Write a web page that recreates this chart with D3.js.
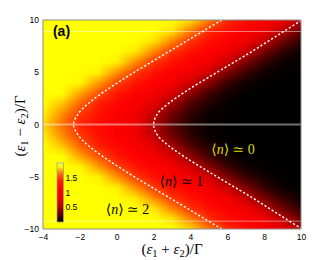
<!DOCTYPE html>
<html>
<head>
<meta charset="utf-8">
<script src="https://cdn.jsdelivr.net/npm/d3@7"></script>
<style>
  body { margin: 0; background: #fff; }
  svg { display: block; }
  .tick text { font-family: "Liberation Sans", Arial, sans-serif; font-size: 8.5px; fill: #000; }
  .math { font-family: "Liberation Serif", "DejaVu Serif", serif; }
</style>
</head>
<body>
<script>
var svg_width = 332;
var svg_height = 260;

var margin = { top: 20, right: 31, bottom: 31, left: 43 };
var width = svg_width - margin.left - margin.right;
var height = svg_height - margin.top - margin.bottom;

// grid of the map: columns are (e1+e2)/G, rows are (e1-e2)/G, top row first
var sumVals = [-4, -3, -2, -1, 0, 1, 2, 3, 4, 5, 6, 7, 8, 9, 10];
var diffVals = [10, 9, 8, 7, 6, 5, 4, 3, 2, 1, 0, -1, -2, -3, -4, -5, -6, -7, -8, -9, -10];
var occupation = [
  [1.93,1.93,1.93,1.93,1.93,1.93,1.93,1.92,1.82,1.65,1.42,1.21,1.02,0.81,0.53],
  [1.93,1.93,1.93,1.93,1.93,1.93,1.93,1.83,1.66,1.43,1.22,1.03,0.83,0.56,0.29],
  [1.93,1.93,1.93,1.93,1.93,1.93,1.83,1.67,1.45,1.23,1.05,0.85,0.59,0.31,0.13],
  [1.93,1.93,1.93,1.93,1.93,1.84,1.68,1.46,1.24,1.06,0.87,0.62,0.33,0.14,0.05],
  [1.93,1.93,1.93,1.93,1.85,1.69,1.47,1.25,1.07,0.88,0.63,0.35,0.15,0.05,0.02],
  [1.93,1.93,1.93,1.85,1.70,1.48,1.26,1.07,0.89,0.65,0.36,0.16,0.06,0.02,0.01],
  [1.93,1.93,1.86,1.72,1.50,1.28,1.09,0.91,0.66,0.38,0.16,0.06,0.02,0.01,0.00],
  [1.93,1.88,1.74,1.54,1.30,1.11,0.92,0.69,0.40,0.18,0.07,0.02,0.01,0.00,0.00],
  [1.90,1.79,1.60,1.36,1.15,0.97,0.75,0.46,0.22,0.10,0.03,0.01,0.00,0.00,0.00],
  [1.85,1.69,1.47,1.24,1.05,0.85,0.58,0.30,0.13,0.04,0.02,0.01,0.00,0.00,0.00],
  [1.81,1.64,1.41,1.20,1.01,0.80,0.52,0.26,0.10,0.04,0.01,0.00,0.00,0.00,0.00],
  [1.85,1.69,1.47,1.24,1.05,0.85,0.58,0.30,0.13,0.04,0.02,0.01,0.00,0.00,0.00],
  [1.90,1.79,1.60,1.36,1.15,0.97,0.75,0.46,0.22,0.10,0.03,0.01,0.00,0.00,0.00],
  [1.93,1.88,1.74,1.54,1.30,1.11,0.92,0.69,0.40,0.18,0.07,0.02,0.01,0.00,0.00],
  [1.93,1.93,1.86,1.72,1.50,1.28,1.09,0.91,0.66,0.38,0.16,0.06,0.02,0.01,0.00],
  [1.93,1.93,1.93,1.85,1.70,1.48,1.26,1.07,0.89,0.65,0.36,0.16,0.06,0.02,0.01],
  [1.93,1.93,1.93,1.93,1.85,1.69,1.47,1.25,1.07,0.88,0.63,0.35,0.15,0.05,0.02],
  [1.93,1.93,1.93,1.93,1.93,1.84,1.68,1.46,1.24,1.06,0.87,0.62,0.33,0.14,0.05],
  [1.93,1.93,1.93,1.93,1.93,1.93,1.83,1.67,1.45,1.23,1.05,0.85,0.59,0.31,0.13],
  [1.93,1.93,1.93,1.93,1.93,1.93,1.93,1.83,1.66,1.43,1.22,1.03,0.83,0.56,0.29],
  [1.93,1.93,1.93,1.93,1.93,1.93,1.93,1.92,1.82,1.65,1.42,1.21,1.02,0.81,0.53]
];

// dashed boundaries
var curveDiff = [-10, -9, -8, -7, -6, -5, -4, -3, -2, -1, 0, 1, 2, 3, 4, 5, 6, 7, 8, 9, 10];
var innerSum = [5.7, 4.75, 3.8, 2.85, 1.9, 0.95, 0.05, -0.8, -1.55, -2.1, -2.35, -2.1, -1.55, -0.8, 0.05, 0.95, 1.9, 2.85, 3.8, 4.75, 5.7];
var outerSum = [10.05, 9.15, 8.25, 7.35, 6.4, 5.45, 4.5, 3.6, 2.8, 2.2, 2.0, 2.2, 2.8, 3.6, 4.5, 5.45, 6.4, 7.35, 8.25, 9.15, 10.05];

var xTicks = [-4, -2, 0, 2, 4, 6, 8, 10];
var yTicks = [-10, -5, 0, 5, 10];
var barTicks = [0.5, 1, 1.5];
var faintLines = [8.9, 0, -9.25];

var svg = d3.select("body")
  .append("svg")
  .attr("width", svg_width)
  .attr("height", svg_height);

svg.append("defs").append("clipPath")
  .attr("id", "plotClip")
  .append("rect")
  .attr("width", width)
  .attr("height", height);

var chartGroup = svg.append("g")
  .attr("transform", `translate(${margin.left}, ${margin.top})`);

var xScale = d3.scaleLinear().domain([-4, 10]).range([0, width]);
var yScale = d3.scaleLinear().domain([-10, 10]).range([height, 0]);

var color = d3.scaleLinear()
  .domain([0, 0.04, 0.12, 0.25, 0.5, 0.8, 1.1, 1.4, 1.6, 1.75, 1.87, 1.94, 2.0])
  .range(["#000000", "#080000", "#2a0000", "#580000", "#b00000", "#f00000", "#ff0000",
          "#ff2000", "#ff6000", "#ffa800", "#ffff00", "#ffff00", "#ffffa0"])
  .clamp(true);

// heat map: one pixel per grid cell, scaled up smoothly
var nx = sumVals.length, ny = diffVals.length;
var small = document.createElement("canvas");
small.width = nx;
small.height = ny;
var sctx = small.getContext("2d");
var img = sctx.createImageData(nx, ny);
occupation.forEach(function(row, j) {
  row.forEach(function(v, i) {
    var c = d3.rgb(color(v));
    var k = (j * nx + i) * 4;
    img.data[k] = c.r;
    img.data[k + 1] = c.g;
    img.data[k + 2] = c.b;
    img.data[k + 3] = 255;
  });
});
sctx.putImageData(img, 0, 0);

var hx0 = xScale(sumVals[0] - 0.5), hx1 = xScale(sumVals[nx - 1] + 0.5);
var hy0 = yScale(diffVals[0] + 0.5), hy1 = yScale(diffVals[ny - 1] - 0.5);
var big = document.createElement("canvas");
big.width = Math.round((hx1 - hx0) * 2);
big.height = Math.round((hy1 - hy0) * 2);
var bctx = big.getContext("2d");
bctx.imageSmoothingEnabled = true;
bctx.drawImage(small, 0, 0, big.width, big.height);

chartGroup.append("image")
  .attr("x", hx0)
  .attr("y", hy0)
  .attr("width", hx1 - hx0)
  .attr("height", hy1 - hy0)
  .attr("preserveAspectRatio", "none")
  .attr("href", big.toDataURL())
  .attr("clip-path", "url(#plotClip)");

// faint horizontal lines over the map
chartGroup.selectAll(".faint")
  .data(faintLines)
  .enter()
  .append("line")
  .attr("class", "faint")
  .attr("x1", 0)
  .attr("x2", width)
  .attr("y1", d => yScale(d))
  .attr("y2", d => yScale(d))
  .attr("stroke", "#fff")
  .attr("stroke-opacity", d => d === 0 ? 0.45 : 0.6)
  .attr("stroke-width", d => d === 0 ? 2 : 0.8);

// dashed boundaries
var line = d3.line()
  .x(d => xScale(d[0]))
  .y(d => yScale(d[1]))
  .curve(d3.curveCatmullRom);

[innerSum, outerSum].forEach(function(sums) {
  chartGroup.append("path")
    .datum(sums.map((s, i) => [s, curveDiff[i]]))
    .attr("d", line)
    .attr("fill", "none")
    .attr("stroke", "#fff")
    .attr("stroke-width", 1.4)
    .attr("stroke-dasharray", "2.2,2")
    .attr("clip-path", "url(#plotClip)");
});

// frame
chartGroup.append("rect")
  .attr("width", width)
  .attr("height", height)
  .attr("fill", "none")
  .attr("stroke", "#8c8c8c")
  .attr("stroke-width", 1);

// axes
var bottomAxis = d3.axisBottom(xScale).tickValues(xTicks).tickSize(0).tickPadding(5);
var leftAxis = d3.axisLeft(yScale).tickValues(yTicks).tickSize(0).tickPadding(4);

chartGroup.append("g")
  .attr("transform", `translate(0, ${height})`)
  .call(bottomAxis)
  .call(g => g.select(".domain").remove());

chartGroup.append("g")
  .call(leftAxis)
  .call(g => g.select(".domain").remove());

// colour bar
var barH = 59, barW = 6.5;
var barScale = d3.scaleLinear().domain([0, 2]).range([barH, 0]);
var grad = svg.select("defs").append("linearGradient")
  .attr("id", "barGrad")
  .attr("x1", 0).attr("y1", 1).attr("x2", 0).attr("y2", 0);
grad.selectAll("stop")
  .data(d3.range(0, 41))
  .enter()
  .append("stop")
  .attr("offset", d => d / 40)
  .attr("stop-color", d => color(d / 20));

var barGroup = chartGroup.append("g")
  .attr("transform", "translate(14, 143)");
barGroup.append("rect")
  .attr("width", barW)
  .attr("height", barH)
  .attr("fill", "url(#barGrad)")
  .attr("stroke", "#a0a0a0")
  .attr("stroke-width", 0.8);
barGroup.append("g")
  .attr("transform", `translate(${barW}, 0)`)
  .call(d3.axisRight(barScale).tickValues(barTicks).tickSize(0).tickPadding(2).tickFormat(d3.format("")))
  .call(g => g.select(".domain").remove());

// math text helper
function mathText(sel, parts) {
  var shift = 0;
  parts.forEach(function(p) {
    var t = sel.append("tspan").text(p.t);
    if (p.i) t.attr("font-style", "italic");
    if (p.sub) {
      t.attr("font-size", "0.7em").attr("dy", 3);
      shift = 3;
    } else if (shift) {
      t.attr("dy", -shift);
      shift = 0;
    }
  });
}

var xTitle = svg.append("text")
  .attr("class", "math")
  .attr("x", 172)
  .attr("y", 254)
  .attr("text-anchor", "middle")
  .style("font-size", "15px");
mathText(xTitle, [{t: "("}, {t: "ε", i: true}, {t: "1", sub: true}, {t: " + "},
  {t: "ε", i: true}, {t: "2", sub: true}, {t: ")/Γ"}]);

var yTitle = svg.append("text")
  .attr("class", "math")
  .attr("transform", "translate(25, 126) rotate(-90)")
  .attr("text-anchor", "middle")
  .style("font-size", "15px");
mathText(yTitle, [{t: "("}, {t: "ε", i: true}, {t: "1", sub: true}, {t: " − "},
  {t: "ε", i: true}, {t: "2", sub: true}, {t: ")/Γ"}]);

// annotations
chartGroup.append("text")
  .attr("x", xScale(-3.46))
  .attr("y", yScale(8.47))
  .style("font-family", "'Liberation Sans', Arial, sans-serif")
  .style("font-weight", "bold")
  .style("font-size", "14px")
  .text("(a)");

var notes = [
  { s: 6.31, d: -2.82, label: "0", fill: "#dede00" },
  { s: 3.51, d: -5.89, label: "1", fill: "#000" },
  { s: 0.585, d: -8.56, label: "2", fill: "#000" }
];
notes.forEach(function(n) {
  var t = chartGroup.append("text")
    .attr("class", "math")
    .attr("x", xScale(n.s))
    .attr("y", yScale(n.d))
    .attr("text-anchor", "middle")
    .attr("fill", n.fill)
    .style("font-size", "14px");
  mathText(t, [{t: "⟨"}, {t: "n", i: true}, {t: "⟩ ≃ " + n.label}]);
});
</script>
</body>
</html>
